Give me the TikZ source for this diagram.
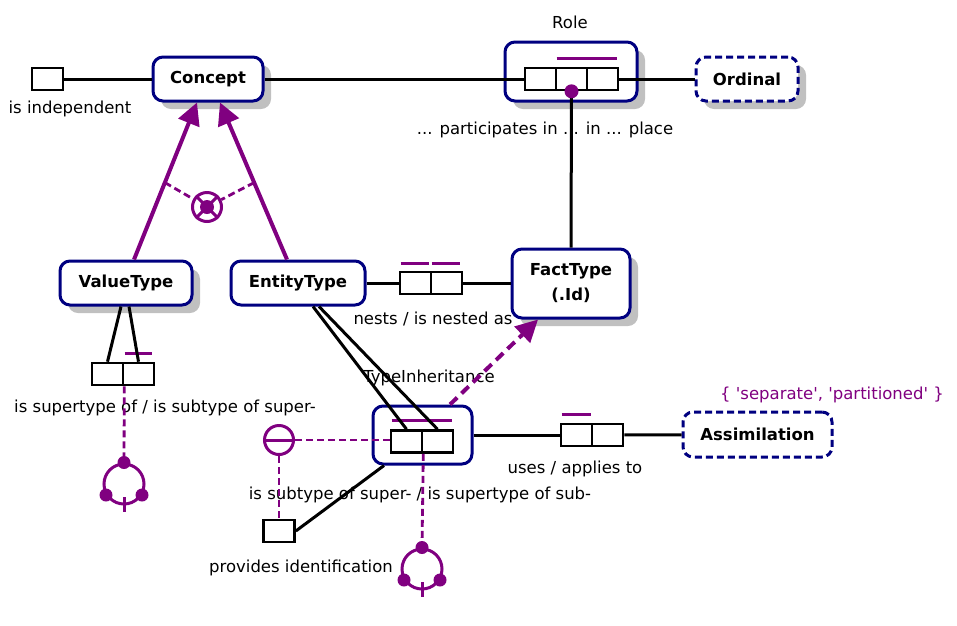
\documentclass[tikz,border=0pt]{standalone}
\usepackage{fontspec}
\newfontfamily\ormfont{DejaVu Sans}
\usetikzlibrary{arrows.meta,shadows}
\definecolor{ormpurple}{HTML}{800080}
\definecolor{ormnavy}{HTML}{000080}
\definecolor{ormshade}{HTML}{C0C0C0}

\begin{document}
\begin{tikzpicture}[x=1pt,y=-1pt,
    every node/.style={font=\ormfont\fontsize{16.5}{19}\selectfont},
    objtype/.style={draw=ormnavy, line width=3pt, rounded corners=10pt, fill=white, inner sep=0pt,
      font=\ormfont\bfseries\fontsize{16.5}{19}\selectfont, minimum height=44pt, align=center},
    shaded/.style={drop shadow={shadow xshift=8pt, shadow yshift=-8pt, fill=ormshade, draw=none, opacity=1}},
    valtype/.style={objtype, dash pattern=on 7pt off 4pt},
    rolebox/.style={draw, line width=2.6pt, fill=white, minimum width=31pt, minimum height=22pt, inner sep=0pt},
    uniq/.style={draw=ormpurple, line width=3pt},
    conn/.style={line width=3pt},
    subtype/.style={draw=ormpurple, line width=4pt, -{Triangle[length=22pt,width=22pt]}},
    cons/.style={draw=ormpurple, line width=2.8pt, dash pattern=on 7pt off 4pt},
    conssym/.style={draw=ormpurple, line width=3pt, circle, inner sep=0pt},
    reading/.style={inner sep=0pt}]
  \useasboundingbox (0,0) rectangle (957,625);

  % object types
  \node[objtype, shaded, minimum width=110pt] (concept) at (208,79) {Concept};
  \node[objtype, shaded, minimum width=132pt, minimum height=59pt] (role) at (571,71.5) {};
  \node[valtype, shaded, minimum width=102pt] (ordinal) at (747,79) {Ordinal};
  \node[objtype, shaded, minimum width=132pt] (valuetype) at (126,283) {ValueType};
  \node[objtype, minimum width=134pt] (entitytype) at (298,283) {EntityType};
  \node[objtype, shaded, minimum width=118pt, minimum height=69pt] (facttype) at (571,283.5) {FactType\\[6pt](.Id)};
  \node[objtype, minimum width=99pt, minimum height=58pt] (typeinh) at (422.5,435) {};
  \node[valtype, minimum width=149pt, minimum height=45pt] (assim) at (757.5,434.5) {Assimilation};

  \node[reading] (rolelbl) at (570,22) {Role};
  \node[reading] (tilbl) at (429,378) {TypeInheritance};
  \node[reading, text=ormpurple] (vc) at (832,395) {\{ 'separate', 'partitioned' \}};

  % is independent
  \node[rolebox] (indep) at (47.5,79) {};
  \node[reading] (indeplbl) at (70,109) {is independent};
  \draw[conn] (indep) -- (concept);

  % Role participation
  \draw[conn] (concept.east) -- (525,79);
  \node[rolebox] (r1) at (540.5,79) {};
  \node[rolebox] (r2) at (571.5,79) {};
  \node[rolebox] (r3) at (602.5,79) {};
  \draw[uniq] ([shift={(2,-8)}]r2.north west) -- ([shift={(-2,-8)}]r3.north east);
  \draw[conn] (r3) -- (ordinal);
  \node[reading] (partlbl) at (545,130) {... participates in ... in ... place};
  \draw[conn] (r2.south) -- (facttype.north);
  \fill[ormpurple] (r2.south) circle (7pt);

  % subtypes of Concept
  \draw[subtype] ([xshift=8pt]valuetype.north) -- coordinate[pos=0.49] (xl) ([xshift=-11pt]concept.south);
  \draw[subtype] ([xshift=-11pt]entitytype.north) -- coordinate[pos=0.49] (xr) ([xshift=12pt]concept.south);
  \node[conssym, minimum size=29pt] (xor) at (207,207) {};
  \draw[cons] (xl) -- (xor);
  \draw[cons] (xr) -- (xor);
  \draw[ormpurple, line width=3pt] (xor.north west) -- (xor.south east) (xor.north east) -- (xor.south west);
  \fill[ormpurple] (xor) circle (7pt);

  % ValueType supertype
  \node[rolebox] (vt1) at (107.5,374) {};
  \node[rolebox] (vt2) at (138.5,374) {};
  \draw[uniq] ([shift={(3,-8)}]vt2.north west) -- ([shift={(-3,-8)}]vt2.north east);
  \draw[conn] ([xshift=-5pt]valuetype.south) -- (vt1.north);
  \draw[conn] ([xshift=3pt]valuetype.south) -- (vt2.north);
  \node[reading] (vtlbl) at (165,408) {is supertype of / is subtype of super-};
  \node[conssym, minimum size=40pt] (ring1) at (124,484) {};
  \draw[cons] (vt1.south east) -- (ring1.north);
  \fill[ormpurple] (ring1.north) circle (6.5pt) ([shift={(-18,11)}]ring1.center) circle (6.5pt)
    ([shift={(18,11)}]ring1.center) circle (6.5pt);
  \draw[ormpurple, line width=3pt] ([yshift=-6pt]ring1.south) -- ([yshift=9pt]ring1.south);

  % nesting
  \node[rolebox] (n1) at (415.5,283) {};
  \node[rolebox] (n2) at (446.5,283) {};
  \draw[uniq] ([shift={(2,-7)}]n1.north west) -- ([shift={(-3,-7)}]n1.north east);
  \draw[uniq] ([shift={(2,-7)}]n2.north west) -- ([shift={(-3,-7)}]n2.north east);
  \draw[conn] (entitytype) -- (n1);
  \draw[conn] (n2) -- (n2 -| facttype.west);
  \node[reading] (nestlbl) at (433,319) {nests / is nested as};

  % TypeInheritance
  \node[rolebox] (ti1) at (406.5,441.5) {};
  \node[rolebox] (ti2) at (437.5,441.5) {};
  \draw[uniq] ([shift={(2,-9)}]ti1.north west) -- ([shift={(-2,-9)}]ti2.north east);
  \draw[conn] ([xshift=15pt]entitytype.south) -- (ti1.north);
  \draw[conn] ([xshift=21pt]entitytype.south) -- (ti2.north);
  \draw[ormpurple, line width=4pt, dash pattern=on 10pt off 6pt, -{Triangle[length=22pt,width=22pt]}]
    ([xshift=27.5pt]typeinh.north) -- ([xshift=-33pt]facttype.south);
  \node[reading] (tirdg) at (420,495) {is subtype of super- / is supertype of sub-};
  \node[conssym, minimum size=40pt] (ring2) at (422,569) {};
  \draw[cons] (ti1.south east) -- (ring2.north);
  \fill[ormpurple] (ring2.north) circle (6.5pt) ([shift={(-18,11)}]ring2.center) circle (6.5pt)
    ([shift={(18,11)}]ring2.center) circle (6.5pt);
  \draw[ormpurple, line width=3pt] ([yshift=-6pt]ring2.south) -- ([yshift=9pt]ring2.south);

  % provides identification
  \node[conssym, minimum size=29pt] (excl) at (279,440) {};
  \draw[ormpurple, line width=3pt] (excl.west) -- (excl.east);
  \draw[cons] (excl.east) -- (excl.east -| ti1.west);
  \node[rolebox] (pid) at (279,531) {};
  \draw[cons] (excl.south) -- (pid.north);
  \draw[conn] (pid.east) -- ([xshift=-38.5pt]typeinh.south);
  \node[reading] (pidlbl) at (301,568) {provides identification};

  % Assimilation
  \node[rolebox] (a1) at (576.5,435) {};
  \node[rolebox] (a2) at (607.5,435) {};
  \draw[uniq] ([shift={(2,-8)}]a1.north west) -- ([shift={(-2,-8)}]a1.north east);
  \draw[conn] (typeinh.east) -- (a1.west);
  \draw[conn] (a2) -- (assim);
  \node[reading] (asrdg) at (575,469) {uses / applies to};
\end{tikzpicture}
\end{document}
